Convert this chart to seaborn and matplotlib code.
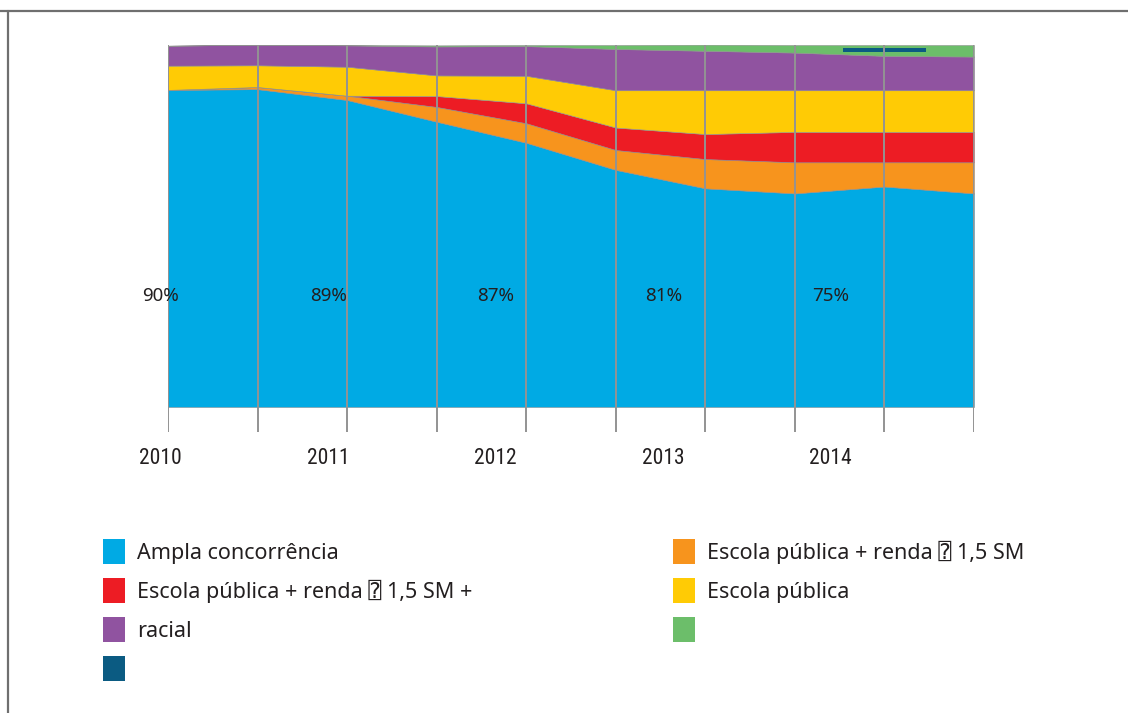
import numpy as np
import matplotlib
matplotlib.use("Agg")
import matplotlib.pyplot as plt
from matplotlib.patches import Patch
from matplotlib.lines import Line2D
from matplotlib import font_manager
import seaborn as sns

# ---------------- data ----------------
periods = np.arange(10)  # two semesters per year, 2010-2014
ampla = [87.6, 87.8, 84.8, 78.8, 73.0, 65.5, 60.4, 59.0, 60.9, 59.0]
renda = [0.0, 0.6, 1.2, 4.1, 5.4, 5.5, 8.1, 8.6, 6.7, 8.6]
renda_racial = [0.0, 0.0, 0.0, 3.0, 5.5, 6.2, 6.9, 8.4, 8.4, 8.4]
publica = [6.7, 6.0, 8.0, 5.7, 7.6, 10.3, 12.1, 11.5, 11.5, 11.5]
racial = [5.5, 5.7, 5.9, 8.0, 8.2, 11.4, 10.9, 10.4, 9.5, 9.3]
outros_verde = [0.0, 0.0, 0.1, 0.3, 0.3, 1.1, 1.7, 2.1, 3.0, 3.2]
outros_azul = [0, 0, 0, 0, 0, 0, 0, 0, 1.1, 0]

years = ["2010", "2011", "2012", "2013", "2014"]
annual_ampla = [90, 89, 87, 81, 75]

colors = {
    "ampla": "#00AAE4",
    "renda": "#F7941D",
    "renda_racial": "#ED1C24",
    "publica": "#FFCB05",
    "racial": "#9053A0",
    "verde": "#6CBE6A",
    "azul": "#0B5B82",
}

sns.set_theme(style="white")

available = {f.name for f in font_manager.fontManager.ttflist}
def pick(*names):
    for n in names:
        if n in available:
            return n
    return "DejaVu Sans"

f_text = pick("Noto Sans", "Open Sans", "DejaVu Sans")
f_narrow = pick("Liberation Sans Narrow", "Roboto Condensed", "DejaVu Sans")
plt.rcParams["font.family"] = [f_text, "DejaVu Sans", "DejaVu Sans Mono"]

W, H = 1128, 713
fig = plt.figure(figsize=(W / 100, H / 100), dpi=100)
fig.patch.set_facecolor("white")

ax = fig.add_axes([168 / W, 1 - 432 / H, (974 - 168) / W, (432 - 45) / H])
ax.set_xlim(0, 9)
ax.set_ylim(-6.9, 100)

ax.stackplot(
    periods,
    ampla, renda, renda_racial, publica, racial, outros_verde,
    colors=[colors["ampla"], colors["renda"], colors["renda_racial"],
            colors["publica"], colors["racial"], colors["verde"]],
    edgecolor="#8f8f8f", linewidth=0.4,
)
ax.bar(periods, outros_azul, bottom=np.array(100) - 0.7 - np.array(outros_azul),
       width=0.93, color=colors["azul"], linewidth=0, zorder=3)

ax.vlines(periods, -6.9, 100, colors="#939393", linewidth=1.4, zorder=4)

for s in ax.spines.values():
    s.set_visible(False)
ax.set_xticks([])
ax.set_yticks([])

label_pos = np.linspace(-0.08, 7.40, 5)
for xp, yr, v in zip(label_pos, years, annual_ampla):
    ax.text(xp, -14.1, yr, ha="center", va="center", fontsize=15.5,
            family=[f_narrow, "DejaVu Sans"], color="#231F20", clip_on=False)
    ax.text(xp, 30.8, f"{v}%", ha="center", va="center", fontsize=13.5,
            color="#231F20", zorder=5)

# ---------------- legends ----------------
q = "\u2370"
left_handles = [Patch(facecolor=colors[k], edgecolor="none") for k in
                ["ampla", "renda_racial", "racial", "azul"]]
left_labels = ["Ampla concorr\u00eancia",
               f"Escola p\u00fablica + renda {q} 1,5 SM +", "racial", ""]
right_handles = [Patch(facecolor=colors[k], edgecolor="none") for k in
                 ["renda", "publica", "verde"]]
right_labels = [f"Escola p\u00fablica + renda {q} 1,5 SM", "Escola p\u00fablica", ""]

common = dict(loc="upper left", frameon=False, borderpad=0, borderaxespad=0,
              handlelength=1.02, handleheight=1.41, handletextpad=0.55,
              labelspacing=0.65, fontsize=15.5, labelcolor="#231F20")
leg1 = fig.legend(left_handles, left_labels,
                  bbox_to_anchor=(103 / W, 1 - 539 / H), **common)
leg2 = fig.legend(right_handles, right_labels,
                  bbox_to_anchor=(673 / W, 1 - 539 / H), **common)

# figure frame (top and left borders)
fig.add_artist(Line2D([0, 1], [1 - 10.5 / H, 1 - 10.5 / H], transform=fig.transFigure,
                      color="#6f6f6f", linewidth=1.6))
fig.add_artist(Line2D([7.5 / W, 7.5 / W], [0, 1 - 10.5 / H], transform=fig.transFigure,
                      color="#6f6f6f", linewidth=1.6))

fig.savefig("out.png", dpi=100, facecolor="white")
